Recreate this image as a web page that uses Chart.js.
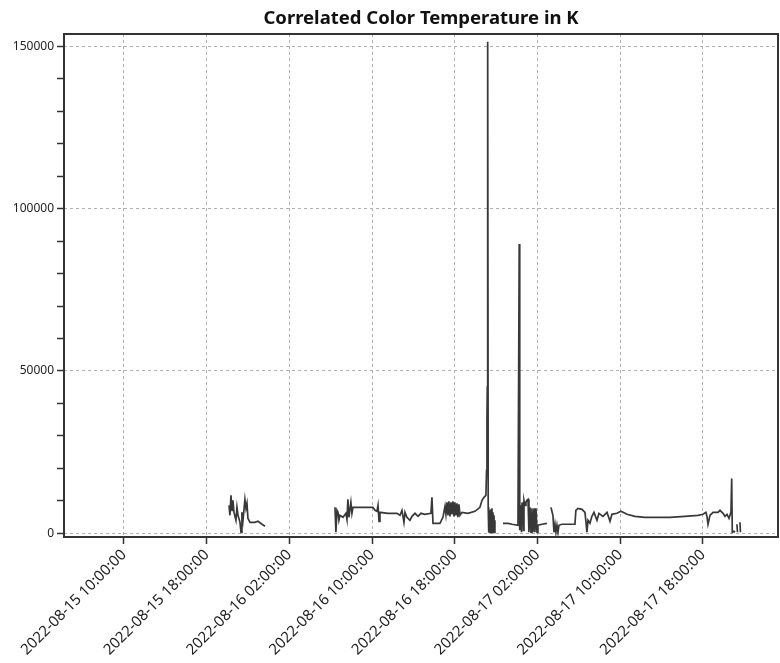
<!DOCTYPE html>
<html>
<head>
<meta charset="utf-8">
<title>Correlated Color Temperature in K</title>
<script src="https://cdn.jsdelivr.net/npm/chart.js@4.4.0/dist/chart.umd.min.js"></script>
<style>
  html, body { margin: 0; padding: 0; background: #fff; }
  #wrap { width: 780px; height: 663px; }
</style>
</head>
<body>
<div id="wrap"><canvas id="cctChart" width="780" height="663"></canvas></div>
<script>
// Hours counted from 2022-08-15 02:00:00 (null = gap in the log)
const hours = [
  18.16, 18.25, 18.35, 18.45, 18.54, 18.64, 18.83, 18.93, 19.03, 19.22, 19.32, 19.41,
  19.51, 19.70, 19.80, 19.90, 19.99, 20.19, 20.67, 20.96, 21.35, 21.64, 21.70,
  28.41, 28.50, 28.60, 28.70, 28.79, 28.89, 29.18, 29.47, 29.57, 29.66, 29.76, 29.95,
  30.05, 30.15, 30.63, 32.08, 32.28, 32.47, 32.57, 32.67, 32.76, 33.53, 34.40, 34.70,
  34.89, 35.08, 35.18, 35.37, 35.66, 35.86, 36.15, 36.44, 36.73, 37.11, 37.69, 37.79,
  37.89, 38.56, 38.85, 39.05, 39.14, 39.24, 39.34, 39.43, 39.53, 39.63, 39.72, 39.82,
  39.92, 40.01, 40.11, 40.21, 40.30, 40.40, 40.50, 40.69, 41.27, 41.95, 42.43, 42.63,
  42.82, 43.01, 43.07, 43.11, 43.14, 43.18, 43.23, 43.26, 43.30, 43.35, 43.40, 43.45,
  43.50, 43.55, 43.59, 43.64, 43.69, 43.74, 43.79, 43.83, 43.88, 44.20,
  44.66, 45.14, 45.53, 46.11, 46.23, 46.28, 46.40, 46.45, 46.50, 46.59, 46.64, 46.69,
  46.79, 46.88, 46.98, 47.08, 47.17, 47.27, 47.37, 47.46, 47.56, 47.66, 47.75, 47.85,
  47.95, 48.04, 48.43, 48.91, 49.10,
  49.30, 49.49, 49.59, 49.69, 49.78, 49.88, 49.98, 50.07, 50.36, 51.62, 51.71, 51.91,
  52.30, 52.59, 52.68, 52.78, 52.88, 53.07, 53.26, 53.46, 53.75, 53.94, 54.33, 54.72,
  55.01, 55.20, 55.68, 56.07, 56.65, 57.42, 58.39, 59.55, 60.81, 62.26, 63.52, 64.00,
  64.29, 64.39, 64.49, 64.68, 64.97, 65.46, 65.65, 65.94, 66.13, 66.33, 66.52, 66.71,
  66.78, 66.84, 67.00, 67.10, 67.20,
  67.29, 67.34, 67.45,
  67.58, 67.63
];

// Correlated colour temperature in K, one value per entry of hours
const cct = [
  8600, 5530, 11680, 7070, 10140, 6450, 4000, 8000, 5530, 3380, 300, 6450,
  4000, 10450, 7680, 9220, 4610, 3380, 3380, 3690, 2770, 2150, null,
  7990, 300, 7070, 6450, 4000, 5530, 4920, 6150, 4300, 10450, 4920, 9530,
  6150, 7990, 7990, 7990, 7070, 6760, 8600, 3690, 6450, 6150, 6150, 5530,
  7070, 3380, 6450, 4920, 4000, 5220, 6150, 5220, 6150, 5840, 6150, 11060,
  3070, 3070, 4920, 8300, 5840, 9530, 5530, 9830, 5220, 9530, 5840, 9830,
  5220, 9530, 5530, 9220, 4920, 8910, 5530, 6450, 6150, 6760, 7990, 10140,
  11060, 11680, 19360, 34700, 45000, 151400, 7990, 300, 7680, 300, 7070, 300,
  7380, 300, 7680, 300, 6450, 300, 5530, 300, 4000, null,
  3070, 3070, 2770, 2460, 89100, 920, 8600, 300, 9220, 9530, 920, 10140,
  8600, 9530, 10140, 10450, 300, 7990, 300, 7680, 300, 7680, 300, 7680,
  300, 2460, 2770, 3070, null,
  7990, 5530, 300, 2770, 300, 2460, 300, 2460, 2770, 2770, 7070, 7680,
  7380, 6450, 3690, 300, 4000, 3070, 5220, 6450, 4000, 6150, 5220, 6450,
  3690, 5840, 6150, 6760, 5840, 5220, 4920, 4920, 4920, 5220, 5530, 5840,
  6450, 5220, 2770, 5530, 6450, 6450, 7070, 6150, 5220, 5840, 4610, 6450,
  16900, 300, 600, 300, null,
  2770, 300, null,
  3380, 300
];

// Axis ticks
const xTickHours = [8, 16, 24, 32, 40, 48, 56, 64];
const yTickValues = [0, 10000, 20000, 30000, 40000, 50000, 60000, 70000, 80000,
  90000, 100000, 110000, 120000, 130000, 140000, 150000];
const yLabelStep = 50000;

const X_MIN = 2.2;
const X_MAX = 71.26;
const Y_MIN = -1150;
const Y_MAX = 153800;

const FONT = "'Noto Sans', 'DejaVu Sans', sans-serif";
const GRID_COLOR = '#b0b0b0';
const AXIS_COLOR = '#333333';

/**
 * hours since 2022-08-15 02:00 -> "2022-08-15 10:00:00"
 */
function formatHour(h) {
  const total = 2 + h;
  const day = 15 + Math.floor(total / 24);
  const hour = total % 24;
  const pad = n => (n < 10 ? '0' : '') + n;
  return '2022-08-' + pad(day) + ' ' + pad(hour) + ':00:00';
}

// frame around the plot area
const framePlugin = {
  id: 'plotFrame',
  afterDraw(chart) {
    const a = chart.chartArea;
    const ctx = chart.ctx;
    ctx.save();
    ctx.strokeStyle = AXIS_COLOR;
    ctx.lineWidth = 2;
    ctx.strokeRect(a.left, a.top, a.right - a.left, a.bottom - a.top);
    ctx.restore();
  }
};

const points = hours.map((h, i) => ({ x: h, y: cct[i] }));

const ctx = document.getElementById('cctChart').getContext('2d');
new Chart(ctx, {
  type: 'line',
  data: {
    datasets: [{
      label: 'CCT',
      data: points,
      borderColor: '#383838',
      borderWidth: 1.7,
      pointRadius: 0,
      tension: 0,
      spanGaps: false
    }]
  },
  options: {
    responsive: false,
    animation: false,
    layout: { padding: { left: 0, right: 2, top: 0, bottom: 0 } },
    plugins: {
      legend: { display: false },
      tooltip: { enabled: false },
      title: {
        display: true,
        text: 'Correlated Color Temperature in K',
        fullSize: false,
        color: '#111',
        font: { family: FONT, size: 18.5, weight: 'bold' },
        padding: { top: 8, bottom: 3.8 }
      }
    },
    scales: {
      x: {
        type: 'linear',
        min: X_MIN,
        max: X_MAX,
        afterBuildTicks: s => { s.ticks = xTickHours.map(v => ({ value: v })); },
        afterFit: s => { s.height = 126; },
        ticks: {
          autoSkip: false,
          maxRotation: 45,
          minRotation: 45,
          padding: 2,
          color: '#222',
          font: { family: FONT, size: 15 },
          callback: v => formatHour(v)
        },
        grid: {
          color: GRID_COLOR,
          lineWidth: 1,
          tickColor: AXIS_COLOR,
          tickLength: 7,
          tickWidth: 1.5,
          tickBorderDash: []
        },
        border: { display: false, dash: [3, 3] }
      },
      y: {
        min: Y_MIN,
        max: Y_MAX,
        afterBuildTicks: s => { s.ticks = yTickValues.map(v => ({ value: v })); },
        afterFit: s => { s.width = 64; },
        ticks: {
          autoSkip: false,
          padding: 3,
          color: '#222',
          font: { family: FONT, size: 12 },
          callback: v => (v % yLabelStep === 0 ? String(v) : '')
        },
        grid: {
          color: c => (c.tick && c.tick.value % yLabelStep === 0 ? GRID_COLOR : 'rgba(0,0,0,0)'),
          lineWidth: 1,
          tickColor: AXIS_COLOR,
          tickLength: 7,
          tickWidth: 1.5,
          tickBorderDash: []
        },
        border: { display: false, dash: [3, 3] }
      }
    }
  },
  plugins: [framePlugin]
});
</script>
</body>
</html>
